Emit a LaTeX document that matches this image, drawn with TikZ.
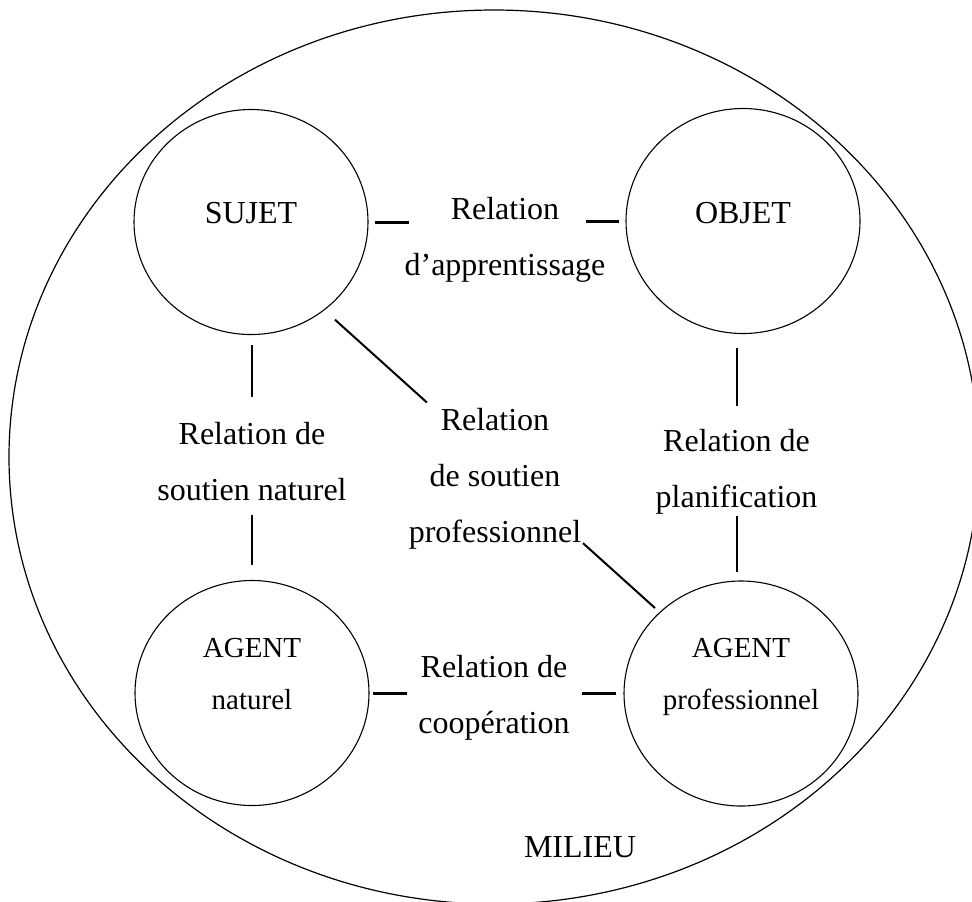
\documentclass[tikz,border=0pt]{standalone}
\usepackage{fontspec}
\setmainfont{Liberation Serif}
\usetikzlibrary{shapes.geometric,calc}
\begin{document}
\begin{tikzpicture}[x=0.5pt,y=-0.5pt,
  entity/.style={draw, ellipse, line width=0.55pt, minimum width=117pt, minimum height=112.5pt, inner sep=0pt},
  lab/.style={align=center, font=\fontsize{16}{28}\selectfont, inner sep=0pt},
  inlab/.style={align=center, font=\fontsize{14.5}{26}\selectfont, inner sep=0pt},
  link/.style={line width=1pt},
  bar/.style={line width=1.5pt}]
\useasboundingbox (0,0) rectangle (972,901);
% milieu
\node[draw, ellipse, line width=0.6pt, minimum width=485pt, minimum height=447pt, inner sep=0pt] (milieu) at (494,457) {};
\node[lab] (milieutxt) at (580,847) {MILIEU};
% entities
\node[entity, label={[lab, yshift=4.5pt]center:SUJET}] (sujet) at (251,222) {};
\node[entity, label={[lab, yshift=4pt]center:OBJET}] (objet) at (743,221) {};
\node[entity, label={[inlab, yshift=9.7pt]center:AGENT\\naturel}] (agentn) at (252,693) {};
\node[entity, label={[inlab, yshift=8.3pt]center:AGENT\\professionnel}] (agentp) at (741,693.5) {};
% relation labels
\node[lab] (lapp) at (505,240) {Relation\\d’apprentissage};
\node[lab] (lsn) at (252,462) {Relation de\\soutien naturel};
\node[lab] (lsp) at (495,478.5) {Relation\\de soutien\\professionnel};
\node[lab] (lpl) at (736.5,471.5) {Relation de\\planification};
\node[lab] (lcoop) at (494,698) {Relation de\\coopération};
% apprentissage
\draw[bar] ([xshift=3pt]sujet.east) -- ++(34,0);
\draw[bar] ([xshift=-3pt]objet.west) -- ++(-33,0);
% soutien naturel
\draw[link, shorten <=5pt, shorten >=12.5pt] (lsn.north |- sujet.south) -- (lsn.north);
\draw[link, shorten <=6.5pt, shorten >=7.5pt] (lsn.south) -- (lsn.south |- agentn.north);
% planification
\draw[link, shorten <=7pt, shorten >=11.5pt] (lpl.north |- objet.south) -- (lpl.north);
\draw[link, shorten <=1pt, shorten >=4pt] (lpl.south) -- (lpl.south |- agentp.north);
% soutien professionnel
\coordinate (dA) at ([yshift=-11pt]sujet.center);
\coordinate (dB) at ([yshift=4pt]agentp.center);
\draw[link] ($(dA)!0.1714!(dB)$) -- ($(dA)!0.359!(dB)$);
\draw[link] ($(dA)!0.6776!(dB)$) -- ($(dA)!0.8245!(dB)$);
% cooperation
\draw[bar] ([xshift=1.5pt]agentn.east) -- ++(34,0);
\draw[bar] ([xshift=-3.5pt]agentp.west) -- ++(-34,0);
\end{tikzpicture}
\end{document}
